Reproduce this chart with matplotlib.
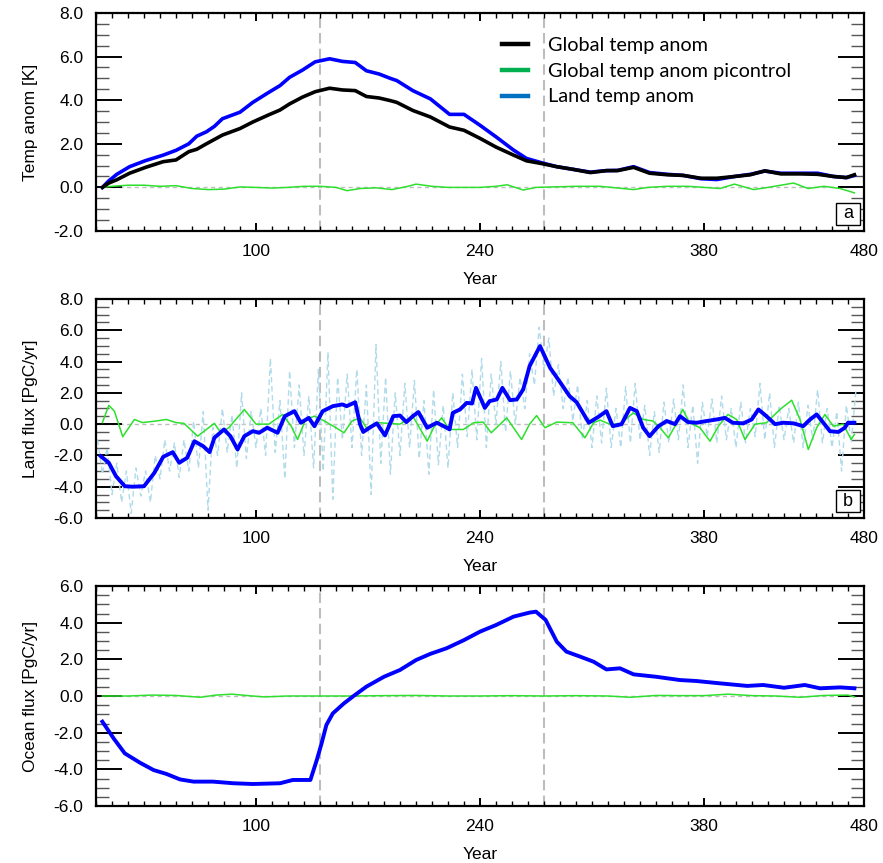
import numpy as np
import matplotlib
matplotlib.use("Agg")
import matplotlib.pyplot as plt
from matplotlib.lines import Line2D
from matplotlib.patches import Rectangle
from matplotlib.ticker import MultipleLocator, FixedLocator, FormatStrFormatter

plt.rcParams['font.family'] = ['Liberation Sans', 'DejaVu Sans']
plt.rcParams['axes.unicode_minus'] = False

# ---------------- data ----------------
# Panel a: temperature anomalies [K]
temp_years = [4, 8, 13, 21, 31, 42, 50, 58, 63, 69, 74, 79, 90, 98, 108, 115, 121, 129, 137, 146,
              154, 162, 169, 177, 184, 188, 198, 209, 221, 230, 240, 250, 261, 269, 278, 288, 298, 309, 319, 326,
              336, 346, 357, 367, 378, 388, 399, 409, 418, 428, 440, 451, 461, 469, 474]
land_temp = [0.0, 0.3, 0.6, 0.95, 1.23, 1.48, 1.7, 2.0, 2.35, 2.55, 2.8, 3.15, 3.45, 3.9, 4.36, 4.67, 5.05, 5.38, 5.76, 5.9,
             5.78, 5.73, 5.35, 5.2, 5.0, 4.9, 4.44, 4.06, 3.35, 3.35, 2.85, 2.32, 1.71, 1.33, 1.14, 0.95, 0.83, 0.7, 0.77, 0.78,
             0.95, 0.68, 0.6, 0.55, 0.4, 0.36, 0.5, 0.6, 0.75, 0.65, 0.65, 0.65, 0.5, 0.45, 0.55]
global_temp = [0.0, 0.2, 0.35, 0.65, 0.92, 1.18, 1.26, 1.64, 1.75, 2.0, 2.2, 2.4, 2.7, 3.0, 3.33, 3.55, 3.83, 4.14, 4.39, 4.55,
               4.47, 4.44, 4.17, 4.1, 3.98, 3.9, 3.53, 3.23, 2.77, 2.62, 2.25, 1.85, 1.48, 1.22, 1.1, 0.95, 0.83, 0.68, 0.77, 0.77,
               0.92, 0.65, 0.58, 0.55, 0.42, 0.42, 0.5, 0.58, 0.76, 0.62, 0.62, 0.6, 0.5, 0.45, 0.58]
pic_temp_years = [4, 10, 20, 30, 40, 50, 60, 70, 80, 90, 100, 110, 120, 130, 140, 150, 157, 165, 175, 185,
                  195, 200, 210, 220, 230, 240, 250, 257, 267, 275, 285, 300, 315, 325, 336, 345, 357, 370, 380, 390,
                  399, 411, 420, 436, 445, 455, 465, 474]
pic_temp = [0.0, 0.05, 0.1, 0.1, 0.05, 0.08, -0.05, -0.1, -0.08, 0.02, 0.0, -0.03, 0.0, 0.05, 0.05, 0.0, -0.15, -0.05, -0.02, -0.1,
            0.05, 0.15, 0.05, 0.0, 0.0, 0.0, 0.05, 0.12, -0.12, 0.0, 0.02, 0.05, 0.05, -0.02, -0.1, 0.0, 0.05, 0.05, 0.0, -0.05,
            0.15, -0.1, 0.0, 0.2, -0.05, 0.05, -0.05, -0.25]

# Panel b: land flux [PgC/yr]
land_flux_years = [3, 8, 12.5, 18, 23, 30, 36.5, 42, 48, 52, 57, 61.5, 67, 71, 74, 80, 84, 88.5, 92.7, 98,
                   102, 107, 113.5, 118, 124, 128, 133, 136.5, 141.7, 148, 154, 156.7, 162, 165, 167, 171, 175.5, 180.6, 185.8, 190,
                   194, 198, 201.5, 207, 213, 219.2, 221, 223, 227.5, 231.7, 235, 237.5, 243, 246, 250.5, 254, 258.8, 263, 267, 271,
                   277.5, 283.8, 290, 296, 300.4, 308, 314, 319, 323, 328.5, 333.75, 338, 342, 346, 351.5, 356.7, 361.9, 365, 370, 375.4,
                   381.7, 388, 393, 398, 404.6, 409.8, 414, 419, 424.4, 429.6, 436, 442, 446.3, 450.4, 454.6, 458.7, 464, 468, 470, 474]
land_flux_smooth = [-2.05, -2.47, -3.33, -3.97, -4.0, -3.97, -3.11, -2.09, -1.79, -2.47, -2.15, -1.09, -1.41, -1.79, -0.87, -0.34, -0.77, -1.62, -0.77, -0.45,
                    -0.55, -0.23, -0.55, 0.51, 0.83, 0.09, 0.4, -0.13, 0.83, 1.15, 1.26, 1.15, 1.4, 0.0, -0.5, -0.23, 0.05, -0.72, 0.51, 0.55,
                    0.13, 0.51, 0.77, -0.23, 0.09, -0.23, -0.34, 0.72, 0.94, 1.36, 1.32, 2.32, 1.04, 1.47, 1.58, 2.32, 1.53, 1.58, 2.22, 3.71,
                    4.99, 3.6, 2.69, 1.79, 1.4, 0.09, 0.47, 0.83, -0.13, 0.0, 1.04, 0.83, -0.23, -0.77, -0.13, 0.2, 0.0, 0.51, 0.13, 0.09,
                    0.2, 0.3, 0.4, 0.09, 0.05, 0.3, 0.94, 0.51, 0.0, 0.09, 0.05, -0.13, 0.3, 0.62, 0.09, -0.45, -0.5, -0.23, 0.09, 0.09]
land_flux_annual = [-1.0, -3.2, -1.5, -4.5, -2.5, -5.0, -3.0, -5.7, -2.8, -4.6,
                    -3.0, -5.0, -2.0, -3.5, -1.0, -3.0, -1.2, -3.4, -1.0, -3.0,
                    0.2, -2.8, 0.8, -5.5, -0.2, -2.0, 1.0, -1.8, 0.6, -2.8,
                    2.0, -2.2, 0.8, -1.5, 1.0, -2.0, 4.2, -1.8, 1.5, -3.5,
                    3.4, -1.5, 2.5, -2.0, 1.8, -2.8, 3.5, -3.0, 4.6, -4.8,
                    3.0, -1.0, 3.2, -1.5, 3.5, -2.0, 2.5, -4.5, 5.1, -2.5,
                    3.0, -3.2, 2.0, -2.0, 2.6, -1.5, 2.8, -2.2, 1.5, -3.2,
                    2.2, -2.6, 1.2, -2.8, 2.0, -1.5, 3.2, -0.8, 3.5, -1.0,
                    4.2, -1.5, 3.2, 0.0, 4.0, -0.5, 3.4, 0.0, 3.0, 1.0,
                    4.5, 2.5, 6.2, 3.5, 5.5, 1.8, 3.8, 1.0, 3.0, 0.2,
                    2.5, -1.0, 1.5, -1.5, 1.8, -1.2, 2.3, -1.5, 1.0, -1.5,
                    2.4, -1.2, 2.6, -1.0, 1.2, -2.0, 0.8, -1.8, 1.4, -1.2,
                    1.6, -1.0, 2.5, -1.5, 1.2, -2.5, 1.4, -0.8, 1.6, -1.2,
                    1.8, -1.0, 1.0, -1.5, 1.4, -1.2, 1.0, -0.8, 2.6, -1.0,
                    2.0, -1.5, 1.2, -1.0, 1.0, -1.2, 1.4, -1.5, 1.2, -1.0,
                    2.2, -1.2, 1.0, -1.5, 0.8, -3.0, 1.2, -1.2, 2.2]
land_flux_annual_years = np.arange(1, 476, 3)
pic_land_years = [4, 8, 11.5, 16.7, 24, 29, 37.5, 44, 50, 55, 63.5, 69, 74, 78, 83, 92.7, 100, 108, 116.7, 122,
                  126, 131, 136.5, 141.7, 150, 155, 160, 165, 169, 175.5, 190, 198, 207, 211, 216, 221, 229.6, 236, 242, 247,
                  256.7, 266, 271, 275.4, 280.6, 288, 298, 305.6, 311, 315, 321, 327.5, 335.8, 342, 348, 352.5, 357.7, 361.9, 366.7, 371,
                  377.5, 383.75, 389, 395, 400.4, 405.6, 411.9, 419, 427.5, 434.8, 440, 445.2, 450.4, 455.6, 460.8, 467, 472, 474]
pic_land_flux = [0.1, 1.2, 0.83, -0.8, 0.3, 0.1, 0.2, 0.3, 0.1, 0.05, -0.77, -0.34, 0.05, -0.55, -0.23, 0.94, 0.0, 0.0, 0.62, -0.13,
                 -0.98, 0.3, 0.51, 0.26, -0.23, -0.55, 0.2, 0.4, -0.23, 0.1, 0.0, 0.51, -1.09, -0.23, 0.4, -0.34, -0.34, 0.09, 0.13, -0.55,
                 0.4, -0.98, 0.0, 0.55, -0.23, 0.13, 0.09, -0.87, 0.09, 0.26, 0.0, 0.0, 0.72, 0.3, 0.2, -0.23, -0.87, -0.13, 0.94, 0.09,
                 -0.23, -1.09, -0.13, 0.62, 0.3, -0.98, 0.0, 0.09, 0.94, 1.53, 0.3, -1.62, -0.23, 0.62, -0.13, 0.0, -0.98, -0.66]

# Panel c: ocean flux [PgC/yr]
ocean_years = [4, 11, 18, 27.5, 36, 44, 52.5, 61, 73, 86, 98, 115, 123, 134, 138, 141, 144, 148, 155, 161,
               169, 180, 190, 200, 209, 219, 230, 240, 250, 261, 271, 275, 281, 288, 294, 302.5, 311, 319, 327.5, 336,
               350, 365, 375, 390, 407, 417, 430, 443, 452.5, 465, 474]
ocean_flux = [-1.4, -2.31, -3.13, -3.64, -4.04, -4.25, -4.55, -4.67, -4.67, -4.76, -4.8, -4.76, -4.58, -4.58, -3.49, -2.58, -1.58, -0.95, -0.4, 0.0,
              0.51, 1.05, 1.42, 1.96, 2.3, 2.6, 3.05, 3.51, 3.87, 4.33, 4.55, 4.6, 4.15, 2.96, 2.42, 2.15, 1.87, 1.45, 1.51, 1.18,
              1.05, 0.87, 0.82, 0.69, 0.55, 0.6, 0.45, 0.6, 0.42, 0.47, 0.42]
pic_ocean_years = [4, 20, 35, 50, 65, 75, 85, 95, 105, 120, 140, 160, 180, 200, 220, 240, 260, 280, 300, 320,
                   334, 350, 365, 380, 395, 410, 425, 440, 455, 470, 474]
pic_ocean_flux = [0, 0, 0.05, 0.03, -0.07, 0.05, 0.1, 0.02, -0.05, 0, 0, 0, 0.02, 0.03, 0, 0, 0.02, 0, 0.02, 0,
                  -0.07, 0.03, 0.02, 0.02, 0.1, 0.02, 0, -0.07, 0.03, 0.05, -0.05]

event_years = [140, 280]
xticks = [100, 240, 380, 480]
legend_labels = ["Global temp anom", "Global temp anom picontrol", "Land temp anom"]
ylabels = ["Temp anom [K]", "Land flux [PgC/yr]", "Ocean flux [PgC/yr]"]
ylims = [(-2, 8), (-6, 8), (-6, 6)]
panel_tags = ["a", "b", None]

# ---------------- style ----------------
BLUE = "#0000ff"
GREEN = "#2de02d"
LIGHTBLUE = "#b0dbea"
GREY = "#bdbdbd"

W, H = 883, 863
fig = plt.figure(figsize=(W / 100, H / 100), dpi=100)
LEFT, RIGHT = 96, 864
panel_px = [(13, 231), (299, 518), (586, 806)]
axes = []
for (top, bot) in panel_px:
    ax = fig.add_axes([LEFT / W, 1 - bot / H, (RIGHT - LEFT) / W, (bot - top) / H])
    axes.append(ax)

for i, ax in enumerate(axes):
    top, bot = panel_px[i]
    hpx = bot - top
    ax.set_xlim(0, 480)
    ax.set_ylim(*ylims[i])
    ax.xaxis.set_major_locator(FixedLocator(xticks))
    ax.xaxis.set_minor_locator(MultipleLocator(10))
    ax.yaxis.set_major_locator(MultipleLocator(2))
    ax.yaxis.set_minor_locator(MultipleLocator(0.5))
    ax.yaxis.set_major_formatter(FormatStrFormatter('%.1f'))
    ax.tick_params(which='both', direction='in', top=True, right=True, labelsize=12.5)
    ax.tick_params(axis='y', which='major', length=18.5, width=1.4, pad=9)
    ax.tick_params(axis='y', which='minor', length=9.3, width=1.0, color='#555555')
    ax.tick_params(axis='x', which='major', length=6, width=1.4, pad=9)
    ax.tick_params(axis='x', which='minor', length=3.8, width=1.0)
    for sp in ax.spines.values():
        sp.set_linewidth(1.6)
    ax.axhline(0, color=GREY, lw=1.0, dashes=(3, 2.5), zorder=1)
    for ev in event_years:
        ax.axvline(ev, color=GREY, lw=1.5, dashes=(5, 2.5), zorder=1)
    ax.set_xlabel("Year", fontsize=12.5)
    ax.xaxis.set_label_coords(0.5, -48.5 / hpx)
    ax.xaxis.label.set_verticalalignment('center')
    ax.set_ylabel(ylabels[i], fontsize=12.5)
    ax.yaxis.set_label_coords(-65 / (RIGHT - LEFT), 0.5)
    ax.yaxis.label.set_verticalalignment('center')
    if panel_tags[i]:
        bw, bh = 24, 22
        x0 = (RIGHT - LEFT - 4 - bw) / (RIGHT - LEFT)
        y0 = 6 / hpx
        ax.add_patch(Rectangle((x0, y0), bw / (RIGHT - LEFT), bh / hpx, transform=ax.transAxes,
                               fc='white', ec='black', lw=1.0, zorder=6))
        ax.text(x0 + bw / 2 / (RIGHT - LEFT), y0 + bh / 2 / hpx, panel_tags[i], transform=ax.transAxes,
                ha='center', va='center', fontsize=13, zorder=7)

# Panel a
ax = axes[0]
ax.plot(pic_temp_years, pic_temp, color=GREEN, lw=1.1, zorder=3)
ax.plot(temp_years, land_temp, color=BLUE, lw=2.6, zorder=4)
ax.plot(temp_years, global_temp, color='black', lw=2.6, zorder=5)
handles = [Line2D([], [], color='black', lw=3.2),
           Line2D([], [], color='#00b050', lw=3.2),
           Line2D([], [], color='#0070c0', lw=3.2)]
leg = ax.legend(handles, legend_labels, loc='upper left', frameon=False,
                bbox_to_anchor=(502 / W, 1 - 37 / H), bbox_transform=fig.transFigure,
                prop={'family': 'Lato', 'size': 14.3}, handlelength=1.3, handletextpad=1.0,
                labelspacing=0.44, borderpad=0, borderaxespad=0)

# Panel b
ax = axes[1]
ax.plot(land_flux_annual_years, land_flux_annual, color=LIGHTBLUE, lw=1.0, dashes=(4, 2.5), zorder=2)
ax.plot(pic_land_years, pic_land_flux, color=GREEN, lw=1.1, zorder=3)
ax.plot(land_flux_years, land_flux_smooth, color=BLUE, lw=2.8, zorder=4)

# Panel c
ax = axes[2]
ax.plot(pic_ocean_years, pic_ocean_flux, color=GREEN, lw=1.1, zorder=3)
ax.plot(ocean_years, ocean_flux, color=BLUE, lw=2.8, zorder=4)

fig.savefig("out.png", dpi=100)
